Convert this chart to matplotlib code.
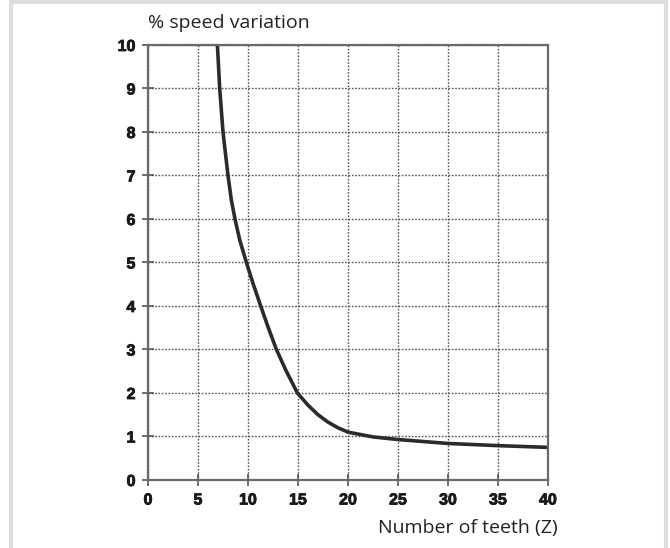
import matplotlib
import matplotlib.pyplot as plt
import matplotlib.patheffects as pe
from matplotlib.lines import Line2D

matplotlib.use("agg")

# speed variation against sprocket tooth count
teeth = [6.94, 7.17, 7.5, 8.0, 8.33, 8.7, 9.17, 9.84, 10.5, 11.27, 12.0,
         12.84, 13.77, 14.94, 16.0, 17.0, 18.0, 19.0, 20.0, 22.5, 25.0,
         30.0, 35.0, 40.0]
variation = [10.0, 9.0, 8.0, 7.0, 6.44, 6.0, 5.52, 5.0, 4.52, 4.0, 3.52,
             3.0, 2.53, 2.0, 1.72, 1.5, 1.33, 1.2, 1.1, 0.99, 0.93,
             0.84, 0.79, 0.75]
x_ticks = list(range(0, 41, 5))
y_ticks = list(range(0, 11))

fig = plt.figure(figsize=(6.7, 5.48), dpi=100)
ax = fig.add_axes([0.2209, 0.1241, 0.597, 0.7938])

ax.plot(teeth, variation, color="#2b2b2b", lw=2.6, solid_joinstyle="round")
ax.set_xlim(0, 40)
ax.set_ylim(0, 10)
ax.set_xticks(x_ticks)
ax.set_yticks(y_ticks)

ax.grid(True, ls=(0, (1.2, 1.2)), color="#555555", lw=1.0)
for side in ax.spines.values():
    side.set_color("#6a6a6a")
    side.set_linewidth(1.6)
ax.tick_params(direction="inout", length=8, width=1.2, color="#555555",
               labelsize=11.5, pad=5)
heavy = [pe.withStroke(linewidth=0.6, foreground="#1a1a1a")]
for lbl in ax.get_xticklabels() + ax.get_yticklabels():
    lbl.set_fontfamily("Liberation Sans")
    lbl.set_fontweight("bold")
    lbl.set_color("#1a1a1a")
    lbl.set_path_effects(heavy)

fig.text(0.221, 0.958, "% speed variation", fontsize=14, family="Open Sans",
         color="#222222", ha="left", va="center")
fig.text(0.833, 0.037, "Number of teeth (Z)", fontsize=14, family="Open Sans",
         color="#222222", ha="right", va="center")

# light frame round the figure
frame = dict(color="#dddddd", lw=3, transform=fig.transFigure)
fig.add_artist(Line2D([0.0164, 0.0164], [0.0, 0.996], **frame))
fig.add_artist(Line2D([0.9940, 0.9940], [0.0, 0.996], **frame))
fig.add_artist(Line2D([0.0164, 0.9940], [0.996, 0.996], **frame))

fig.savefig("out.png", dpi=100)
